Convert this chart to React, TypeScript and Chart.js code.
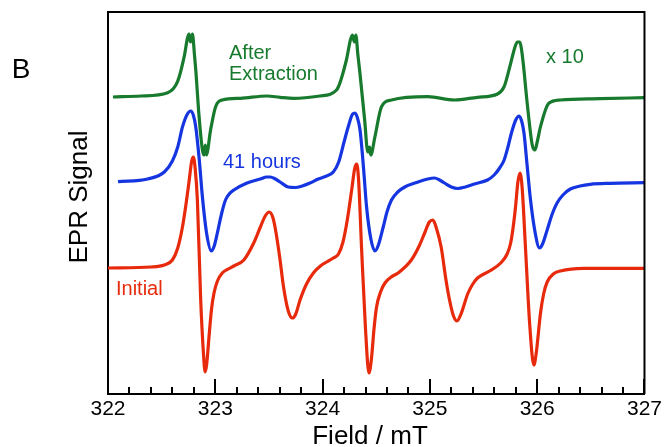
import React, { useEffect, useRef } from "react";
import { Chart, registerables } from "chart.js";

Chart.register(...registerables);

// Field (mT) and signal (arbitrary units, offset traces)
const initialField = [322.0, 322.4, 322.525, 322.6, 322.65, 322.694, 322.73, 322.756, 322.78, 322.796, 322.812, 322.833, 322.864, 322.89, 322.905, 322.92, 322.942, 322.965, 322.988, 323.02, 323.065, 323.12, 323.173, 323.266, 323.358, 323.42, 323.465, 323.503, 323.535, 323.56, 323.6, 323.636, 323.68, 323.719, 323.75, 323.79, 323.85, 323.914, 323.98, 324.037, 324.1, 324.148, 324.19, 324.23, 324.271, 324.3, 324.318, 324.335, 324.364, 324.4, 324.432, 324.455, 324.48, 324.503, 324.54, 324.581, 324.64, 324.704, 324.827, 324.9, 324.951, 324.995, 325.028, 325.06, 325.105, 325.15, 325.183, 325.22, 325.253, 325.29, 325.352, 325.4, 325.444, 325.556, 325.66, 325.72, 325.753, 325.78, 325.799, 325.82, 325.84, 325.86, 325.892, 325.93, 325.969, 325.99, 326.031, 326.06, 326.093, 326.15, 326.216, 326.432, 327.0];
const initialSignal = [126, 127, 129, 134, 146, 167, 192, 213, 233, 237, 226, 194, 94, 40, 22, 30, 58, 85, 101, 113, 121, 125, 128, 134, 151, 167, 178, 182, 177, 165, 137, 107, 83, 76, 80, 94, 110, 121, 128, 132, 136, 140, 152, 174, 204, 226, 230, 215, 144, 65, 21, 35, 66, 87, 102, 111, 117, 121, 134, 148, 161, 172, 174, 166, 147, 114, 94, 78, 73, 80, 100, 110, 116, 123, 131, 140, 151, 170, 188, 212, 221, 206, 144, 70, 29, 40, 81, 100, 112, 120, 123, 125.7, 125.7];

const hoursField = [322.093, 322.37, 322.525, 322.6, 322.65, 322.694, 322.74, 322.771, 322.795, 322.818, 322.85, 322.88, 322.92, 322.963, 322.99, 323.019, 323.06, 323.095, 323.13, 323.173, 323.296, 323.419, 323.48, 323.512, 323.56, 323.604, 323.68, 323.744, 323.81, 323.882, 323.96, 324.037, 324.1, 324.15, 324.2, 324.241, 324.28, 324.303, 324.325, 324.349, 324.38, 324.41, 324.45, 324.488, 324.52, 324.565, 324.6, 324.642, 324.7, 324.766, 324.889, 324.98, 325.044, 325.09, 325.136, 325.2, 325.259, 325.33, 325.414, 325.537, 325.599, 325.65, 325.692, 325.73, 325.76, 325.8, 325.831, 325.855, 325.877, 325.905, 325.938, 325.98, 326.021, 326.05, 326.093, 326.14, 326.185, 326.24, 326.309, 326.4, 326.494, 326.679, 327.0];
const hoursSignal = [212.3, 215, 222, 233, 247, 267, 280, 283, 279, 267, 235, 197, 160, 143, 148, 161, 181, 194, 200, 204, 211, 215, 217, 217, 215, 212, 207, 206.5, 208, 211, 215, 218, 222, 232, 252, 268, 280, 281, 276, 264, 228, 187, 155, 143, 149, 167, 182, 194, 202, 207, 212, 215, 216, 214, 211, 207, 205.5, 207, 210, 214, 219, 226, 234, 248, 261, 274, 278, 273, 261, 230, 194, 162, 146, 150, 164, 180, 191, 199, 205, 208, 209.7, 210.7, 211.3];

const extractField = [322.046, 322.308, 322.556, 322.648, 322.71, 322.741, 322.755, 322.769, 322.787, 322.806, 322.818, 322.849, 322.88, 322.895, 322.907, 322.917, 322.956, 323.003, 323.065, 323.234, 323.481, 323.604, 323.729, 323.975, 324.13, 324.222, 324.259, 324.278, 324.296, 324.31, 324.329, 324.345, 324.392, 324.421, 324.438, 324.449, 324.488, 324.549, 324.642, 324.981, 325.229, 325.444, 325.63, 325.692, 325.753, 325.796, 325.815, 325.838, 325.852, 325.87, 325.907, 325.954, 325.979, 326.0, 326.031, 326.108, 326.216, 326.586, 327.0];
const extractSignal = [297, 298, 301.3, 312.3, 337.3, 356, 360, 352, 360, 339, 324, 277.3, 244, 239, 249, 239, 264, 287.3, 294, 295.7, 298, 296.7, 295.7, 298, 304, 334, 354, 359, 352, 359, 339, 324, 274, 242, 247, 239, 257.3, 287.3, 294, 297.3, 294, 296.7, 300, 307.3, 330.7, 348, 352, 352, 346, 330.7, 290.7, 249, 244, 252, 267.3, 290.7, 294, 295.3, 296.3];

const fieldMin = 322;
const fieldMax = 327;
const majorStep = 1;
const minorStep = 0.2;

const RED = "#e82a0c";
const BLUE = "#1535e0";
const GREEN = "#177a2c";
const FONT = "'Liberation Sans', Arial, Helvetica, sans-serif";

const labels = [
  { text: "After", x: 229, y: 53, color: GREEN, size: 20 },
  { text: "Extraction", x: 229, y: 74, color: GREEN, size: 20 },
  { text: "x 10", x: 546, y: 57, color: GREEN, size: 20 },
  { text: "41 hours", x: 223, y: 162, color: BLUE, size: 20 },
  { text: "Initial", x: 116, y: 289, color: RED, size: 20 },
];

const toPoints = (xs: number[], ys: number[]) => xs.map((x, i) => ({ x, y: ys[i] }));

const decorPlugin = {
  id: "decor",
  afterDraw(chart: any) {
    const ctx = chart.ctx;
    const xs = chart.scales.x;
    const area = chart.chartArea;
    ctx.save();
    ctx.strokeStyle = "#000";
    ctx.lineWidth = 2;
    ctx.beginPath();
    ctx.moveTo(area.left - 1, area.top);
    ctx.lineTo(area.right, area.top);
    ctx.lineTo(area.right, area.bottom);
    ctx.stroke();
    const n = Math.round((fieldMax - fieldMin) / minorStep);
    for (let i = 0; i <= n; i++) {
      const v = fieldMin + i * minorStep;
      const isMajor = Math.abs(v / majorStep - Math.round(v / majorStep)) < 1e-6;
      const px = Math.round(xs.getPixelForValue(v));
      const len = isMajor ? 15 : 7;
      ctx.beginPath();
      ctx.moveTo(px, area.bottom);
      ctx.lineTo(px, area.bottom - len);
      ctx.stroke();
    }
    ctx.textBaseline = "middle";
    ctx.textAlign = "left";
    for (const l of labels) {
      ctx.fillStyle = l.color;
      ctx.font = `${l.size}px ${FONT}`;
      ctx.fillText(l.text, l.x, l.y);
    }
    ctx.fillStyle = "#000";
    ctx.font = `28px ${FONT}`;
    ctx.textAlign = "center";
    ctx.fillText("B", 21, 70);
    ctx.font = `26px ${FONT}`;
    ctx.fillText("Field / mT", 370, 437);
    ctx.translate(80, 197);
    ctx.rotate(-Math.PI / 2);
    ctx.fillText("EPR Signal", 0, 0);
    ctx.restore();
  },
};

export default function App() {
  const ref = useRef<HTMLCanvasElement>(null);
  useEffect(() => {
    if (!ref.current) return;
    const ds = (label: string, xs: number[], ys: number[], color: string) => ({
      label,
      data: toPoints(xs, ys),
      borderColor: color,
      borderWidth: 3.2,
      pointRadius: 0,
      cubicInterpolationMode: "monotone",
      fill: false,
    });
    const chart = new Chart(ref.current, {
      type: "line",
      data: {
        datasets: [
          ds("After Extraction (x10)", extractField, extractSignal, GREEN),
          ds("41 hours", hoursField, hoursSignal, BLUE),
          ds("Initial", initialField, initialSignal, RED),
        ],
      },
      options: {
        animation: false,
        responsive: false,
        devicePixelRatio: 1,
        layout: { padding: { left: 0, right: 17, top: 12, bottom: 0 } },
        plugins: { legend: { display: false }, tooltip: { enabled: false } },
        scales: {
          x: {
            type: "linear",
            min: fieldMin,
            max: fieldMax,
            grid: { display: false, drawTicks: false },
            border: { display: true, color: "#000", width: 2 },
            ticks: { stepSize: majorStep, color: "#000", font: { size: 21, family: FONT }, padding: 3, maxRotation: 0 },
            afterFit: (s: any) => { s.height = 53; },
          },
          y: {
            type: "linear",
            min: 0,
            max: 382,
            grid: { display: false, drawTicks: false },
            border: { display: true, color: "#000", width: 2 },
            ticks: { display: false },
            afterFit: (s: any) => { s.width = 108; },
          },
        },
      },
      plugins: [decorPlugin],
    } as any);
    return () => chart.destroy();
  }, []);
  return (
    <div style={{ position: "fixed", left: 0, top: 0, width: 665, height: 447, background: "#fff" }}>
      <canvas ref={ref} width={665} height={447} />
    </div>
  );
}
